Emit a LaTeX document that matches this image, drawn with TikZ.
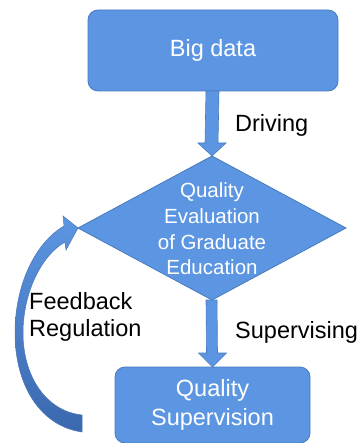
\documentclass[tikz,border=0pt]{standalone}
\usepackage{fontspec}
\setmainfont{Liberation Sans}
\usetikzlibrary{shapes.geometric,calc}
\definecolor{boxblue}{RGB}{92,150,226}
\definecolor{boxedge}{RGB}{72,122,190}
\definecolor{darkblue}{RGB}{58,104,174}
\tikzset{
  box/.style={draw=boxedge, line width=0.8pt, fill=boxblue, rounded corners=10pt,
    text=white, align=center, inner sep=0pt, outer sep=0pt,
    font=\fontsize{23.5}{28.5}\selectfont},
  dmd/.style={draw=boxedge, line width=0.8pt, fill=boxblue, diamond,
    minimum width=268pt, minimum height=144pt, inner sep=0pt, outer sep=0pt},
  dmtxt/.style={text=white, align=center, inner sep=0pt,
    font=\fontsize{20.5}{25.6}\selectfont},
  lbl/.style={text=black, align=left, inner sep=0pt, anchor=west,
    font=\fontsize{23.5}{27}\selectfont},
  blockarrow/.style={draw=boxedge, line width=0.6pt, fill=boxblue, line join=miter},
}
\begin{document}
\begin{tikzpicture}[x=1pt,y=-1pt]
\useasboundingbox (0,0) rectangle (361,443);
\node[box, minimum width=250pt, minimum height=81pt] (bd) at (213,50.5) {Big data};
\node[dmd] (dm) at (212,228) {};
\node[dmtxt] (dmt) at (212,229) {Quality\\Evaluation\\of Graduate\\Education};
\node[box, minimum width=195pt, minimum height=76pt] (qs) at (212.5,405) {Quality\\Supervision};
% straight block arrows
\path[blockarrow]
  ($(bd.south)+(-7,0)$) -- ($(dm.north)+(-7,-13)$) -- ($(dm.north)+(-14,-13)$)
  -- (dm.north) -- ($(dm.north)+(14,-13)$) -- ($(dm.north)+(6,-13)$)
  -- ($(bd.south)+(6,0)$) -- cycle;
\path[blockarrow]
  ($(dm.south)+(-6,0)$) -- ($(qs.north)+(-6,-14)$) -- ($(qs.north)+(-14,-14)$)
  -- (qs.north) -- ($(qs.north)+(14,-14)$) -- ($(qs.north)+(5,-14)$)
  -- ($(dm.south)+(5,0)$) -- cycle;
% feedback curved arrow
\coordinate (fbstart) at (82,423);
\path[draw=darkblue!90, line width=0.5pt, top color=boxblue, bottom color=darkblue, line join=miter]
  (82,432) .. controls (40,426) and (15,385) .. (15,333)
  .. controls (15,285) and (35,243) .. (64,226)
  -- (63,216) -- (dm.west) -- (66,250) -- (65,242)
  .. controls (42,255) and (23,292) .. (23,333)
  .. controls (23,375) and (45,411) .. (82,415) -- cycle;
\node[lbl] (drv) at (235,125) {Driving};
\node[lbl] (sup) at (235,332) {Supervising};
\node[lbl] (fb) at (29,317) {Feedback\\Regulation};
\end{tikzpicture}
\end{document}
